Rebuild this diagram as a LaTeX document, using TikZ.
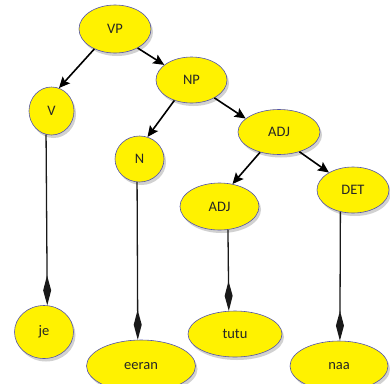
\documentclass[tikz,border=0pt]{standalone}
\usepackage{fontspec}
\setmainfont{Carlito}
\usetikzlibrary{shapes,arrows.meta,shadows}
\usetikzlibrary{positioning}

\begin{document}
\begin{tikzpicture}[x=1pt,y=-1pt,
	tnode/.style={ellipse, draw=blue!35!gray, line width=0.6pt, fill=yellow, inner sep=0pt,
		font=\fontsize{14.5}{16}\selectfont, text=black!85,
		drop shadow={shadow xshift=2pt, shadow yshift=-3pt, opacity=0.3, fill=black!60}},
	branch/.style={line width=1.6pt, -{Stealth[length=11pt,width=10pt,inset=2pt]}},
	leaf/.style={line width=1.3pt, black!90, -{Diamond[length=30pt,width=8pt]}}]
	
	\useasboundingbox (0,0) rectangle (390,383);
	
	\node[tnode, minimum width=72pt, minimum height=48pt] (vp) at (115,29) {VP};
	\node[tnode, minimum width=45pt, minimum height=48pt] (v) at (51.5,111) {V};
	\node[tnode, minimum width=71pt, minimum height=46pt] (np) at (191.5,80) {NP};
	\node[tnode, minimum width=49pt, minimum height=46pt] (n) at (139.5,159) {N};
	\node[tnode, minimum width=82pt, minimum height=45pt] (adj) at (279,132) {ADJ};
	\node[tnode, minimum width=79pt, minimum height=47pt] (adj2) at (219.5,206.5) {ADJ};
	\node[tnode, minimum width=72pt, minimum height=46pt] (det) at (353,190) {DET};
	
	\node[tnode, minimum width=59pt, minimum height=53pt] (je) at (44,332) {je};
	\node[tnode, minimum width=109pt, minimum height=52pt] (eeran) at (141,366) {eeran};
	\node[tnode, minimum width=94pt, minimum height=46pt] (tutu) at (235,334) {tutu};
	\node[tnode, minimum width=98pt, minimum height=50pt] (naa) at (339,366) {naa};
	
	% tree branches
	\draw[branch] (vp.224) -- (v.72);
	\draw[branch] (vp.320) -- (np.151);
	\draw[branch] (np.230) -- (n.70);
	\draw[branch] (np.322) -- (adj.158);
	\draw[branch] (adj.227) -- (adj2.60);
	\draw[branch] (adj.316) -- (det.144);
	
	% words
	\draw[leaf] (v.257) -- (je.83);
	\draw[leaf] (n.264) -- (eeran.97);
	\draw[leaf] (adj2.290) -- (tutu.105);
	\draw[leaf] (det.240) -- (naa.88);
	
\end{tikzpicture}
\end{document}
